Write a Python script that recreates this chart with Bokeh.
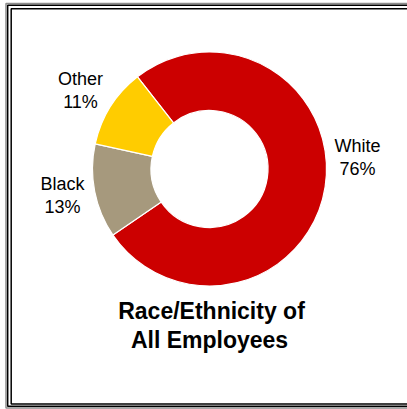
import numpy as np
from bokeh.plotting import figure
from bokeh.models import Range1d, ColumnDataSource
from bokeh.core.properties import value
from bokeh.embed import file_html
from bokeh.resources import INLINE

# ---- data ----
categories = ["White", "Black", "Other"]
percents = [76, 13, 11]
colors = ["#CC0000", "#A6997D", "#FFCC00"]
title_lines = ["Race/Ethnicity of", "All Employees"]

W, H = 407, 409
p = figure(width=W, height=H, x_range=Range1d(0, W), y_range=Range1d(0, H),
           output_backend="svg", toolbar_location=None, min_border=0,
           x_axis_location=None, y_axis_location=None,
           margin=(0, 0, 0, 0))
p.grid.visible = False
p.outline_line_color = None
p.background_fill_color = "white"
p.border_fill_color = "white"

def Y(py):
    return H - py

# ---- frame (decorative) ----
p.quad(left=[5.5], right=[420], top=[Y(3)], bottom=[Y(407.5)],
       fill_color=None, line_color="#8c8c8c", line_width=1.5)
p.quad(left=[7.2], right=[420], top=[Y(4.7)], bottom=[Y(405.7)],
       fill_color=None, line_color="black", line_width=1.5)
p.quad(left=[10.7], right=[420], top=[Y(8.2)], bottom=[Y(403.5)],
       fill_color=None, line_color="black", line_width=1.5)

# ---- donut ----
cx, cy = 209, 168.5
start_deg = 128.0
vals = np.array(percents, dtype=float)
frac = vals / vals.sum()
cum = np.concatenate([[0], np.cumsum(frac)])
start = np.deg2rad(start_deg - 360 * cum[:-1])
end = np.deg2rad(start_deg - 360 * cum[1:])
src = ColumnDataSource(dict(cat=categories, start=start, end=end, color=colors))
p.annular_wedge(x=cx, y=Y(cy), inner_radius=58.5, outer_radius=117,
                start_angle="start", end_angle="end", direction="clock",
                fill_color="color", line_color="white", line_width=1.2, source=src)

# ---- labels ----
label_pos = {"White": (357, 145), "Black": (62, 183), "Other": (80, 78)}
line_gap = 23
lx, ly1, ly2, t1, t2 = [], [], [], [], []
for c, v in zip(categories, percents):
    x, y = label_pos[c]
    lx.append(x); ly1.append(Y(y)); ly2.append(Y(y + line_gap))
    t1.append(c); t2.append(f"{v}%")
for ys, ts in ((ly1, t1), (ly2, t2)):
    p.text(x=lx, y=ys, text=ts, text_align="center", text_baseline="middle",
           text_font=value("Liberation Sans"), text_font_size="18px",
           text_color="black")

# ---- title ----
p.text(x=[211, 209], y=[Y(310), Y(339)], text=title_lines,
       text_align="center", text_baseline="middle",
       text_font=value("Liberation Sans"), text_font_style="bold",
       text_font_size="23px", text_color="black")

open("out.html", "w").write(file_html(p, INLINE))
